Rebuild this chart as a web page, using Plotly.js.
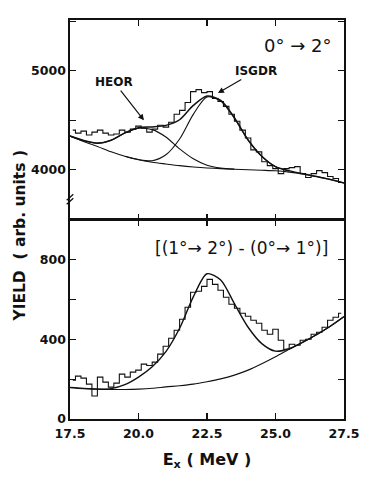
<!DOCTYPE html>
<html>
<head>
<meta charset="utf-8">
<script src="https://cdn.plot.ly/plotly-3.0.1.min.js"></script>
<style>
  html, body { margin: 0; padding: 0; background: #fff; }
  #plot { width: 377px; height: 477px; }
</style>
</head>
<body>
<div id="plot"></div>
<script>
// histogram bins (bin centres, MeV)
const binE = [17.6, 17.8, 18.0, 18.2, 18.4, 18.6, 18.8, 19.0, 19.2, 19.4,
  19.6, 19.8, 20.0, 20.2, 20.4, 20.6, 20.8, 21.0, 21.2, 21.4,
  21.6, 21.8, 22.0, 22.2, 22.4, 22.6, 22.8, 23.0, 23.2, 23.4,
  23.6, 23.8, 24.0, 24.2, 24.4, 24.6, 24.8, 25.0, 25.2, 25.4,
  25.6, 25.8, 26.0, 26.2, 26.4, 26.6, 26.8, 27.0, 27.2, 27.4];

// top panel: 0deg -> 2deg spectrum
const yield02 = [4400, 4370, 4390, 4350, 4380, 4400, 4370, 4350, 4360, 4400,
  4380, 4410, 4440, 4420, 4380, 4410, 4450, 4430, 4480, 4560,
  4600, 4680, 4790, 4810, 4780, 4790, 4720, 4690, 4640, 4560,
  4490, 4400, 4320, 4200, 4180, 4080, 4040, 4010, 3960, 4010,
  4020, 4030, 3960, 3920, 3960, 3990, 3970, 3930, 3910, 3870];

// bottom panel: difference spectrum
const yieldDiff = [195, 215, 205, 175, 115, 210, 185, 160, 180, 225,
  210, 235, 245, 275, 268, 285, 325, 365, 405, 445,
  500, 560, 635, 640, 665, 700, 675, 645, 610, 575,
  555, 530, 515, 495, 480, 445, 425, 450, 395, 350,
  375, 370, 395, 400, 425, 435, 460, 495, 510, 530];

// fit curves, read every 0.5 MeV
const fitE = [17.5, 18.0, 18.5, 19.0, 19.5, 20.0, 20.5, 21.0, 21.5, 22.0, 22.5,
  23.0, 23.5, 24.0, 24.5, 25.0, 25.5, 26.0, 26.5, 27.0, 27.5];
const topBg = [4340, 4285, 4235, 4180, 4135, 4100, 4075, 4057, 4040, 4027, 4017,
  4010, 4004, 3999, 3994, 3988, 3975, 3955, 3930, 3900, 3865];
const topTotal = [4340, 4295, 4268, 4298, 4372, 4425, 4432, 4448, 4505, 4650, 4745,
  4700, 4525, 4300, 4135, 4030, 3990, 3958, 3930, 3900, 3865];

const heorE = [17.5, 18.0, 18.5, 19.0, 19.5, 20.0, 20.5, 21.0, 21.5, 22.0, 22.5, 23.0, 23.5];
const heorFit = [4340, 4292, 4268, 4298, 4370, 4420, 4405, 4330, 4210, 4110, 4045, 4015, 4005];

const isgdrE = [19.5, 20.0, 20.5, 21.0, 21.5, 22.0, 22.5, 23.0, 23.5, 24.0, 24.5, 25.0, 25.5];
const isgdrFit = [4135, 4102, 4090, 4150, 4310, 4560, 4735, 4695, 4522, 4300, 4135, 4030, 3985];

const botBg = [158, 153, 150, 148, 148, 150, 154, 161, 167, 175, 187,
  201, 220, 245, 277, 312, 350, 385, 423, 465, 513];
const botTotal = [158, 153, 150, 152, 172, 210, 262, 338, 455, 612, 728,
  697, 578, 460, 378, 340, 352, 385, 423, 465, 513];

const xTicks = [17.5, 20.0, 22.5, 25.0, 27.5];
const xTickText = ['17.5', '20.0', '22.5', '25.0', '27.5'];

const black = '#111';
const FONT = 'DejaVu Sans, Liberation Sans, sans-serif';
const line = (w) => ({color: black, width: w});
const smooth = (w) => ({color: black, width: w, shape: 'spline', smoothing: 0.8});

const traces = [
  {x: binE, y: yield02, xaxis: 'x2', yaxis: 'y2', mode: 'lines', line: Object.assign(line(1.1), {shape: 'hvh'})},
  {x: fitE, y: topBg, xaxis: 'x2', yaxis: 'y2', mode: 'lines', line: smooth(1.1)},
  {x: heorE, y: heorFit, xaxis: 'x2', yaxis: 'y2', mode: 'lines', line: smooth(1.1)},
  {x: isgdrE, y: isgdrFit, xaxis: 'x2', yaxis: 'y2', mode: 'lines', line: smooth(1.1)},
  {x: fitE, y: topTotal, xaxis: 'x2', yaxis: 'y2', mode: 'lines', line: smooth(1.5)},
  {x: binE, y: yieldDiff, xaxis: 'x', yaxis: 'y', mode: 'lines', line: Object.assign(line(1.1), {shape: 'hvh'})},
  {x: fitE, y: botBg, xaxis: 'x', yaxis: 'y', mode: 'lines', line: smooth(1.1)},
  {x: fitE, y: botTotal, xaxis: 'x', yaxis: 'y', mode: 'lines', line: smooth(1.4)}
];

const tickFont = {family: FONT, size: 12.5, color: black, weight: 'bold'};
const axBase = {
  showline: true, linecolor: black, linewidth: 1.6, mirror: 'ticks',
  ticks: 'inside', ticklen: 6, tickwidth: 1.2, tickcolor: black,
  showgrid: false, zeroline: false, tickfont: tickFont
};
const minorTicks = (d) => ({dtick: d, ticks: 'inside', ticklen: 6, tickwidth: 1.2, tickcolor: black, showgrid: false});

const layout = {
  width: 377, height: 477,
  margin: {l: 70, r: 33, t: 20, b: 58},
  paper_bgcolor: '#fff', plot_bgcolor: '#fff',
  showlegend: false,
  font: {family: FONT, color: black},
  xaxis: Object.assign({}, axBase, {
    domain: [0, 1], anchor: 'y', range: [17.5, 27.5],
    tickvals: xTicks, ticktext: xTickText, ticklabelstandoff: 2,
    title: {text: 'E<sub>x</sub> ( MeV )', font: {family: FONT, size: 16, weight: 'bold', color: black}, standoff: 14}
  }),
  yaxis: Object.assign({}, axBase, {
    domain: [0, 0.5], anchor: 'x', range: [0, 1000],
    tickvals: [0, 400, 800], minor: minorTicks(200)
  }),
  xaxis2: Object.assign({}, axBase, {
    domain: [0, 1], anchor: 'y2', range: [17.5, 27.5],
    tickvals: xTicks, showticklabels: false
  }),
  yaxis2: Object.assign({}, axBase, {
    domain: [0.5, 1], anchor: 'x2', range: [3495, 5515],
    tickvals: [4000, 5000], minor: Object.assign(minorTicks(500), {tick0: 4000})
  }),
  annotations: [
    {xref: 'paper', yref: 'paper', x: -0.182, y: 0.46, xanchor: 'center', yanchor: 'middle',
      text: 'YIELD  ( arb. units )', textangle: -90, showarrow: false,
      font: {family: FONT, size: 15.5, weight: 'bold', color: black}},
    {xref: 'x2', yref: 'y2', x: 25.8, y: 5260, text: '0\u00b0 \u2192 2\u00b0',
      showarrow: false, font: {family: FONT, size: 18, color: black}},
    {xref: 'x2', yref: 'y2', x: 22.9, y: 4775, text: 'ISGDR', ax: 38, ay: -22,
      showarrow: true, arrowhead: 2, arrowsize: 1, arrowwidth: 1.2, arrowcolor: black,
      font: {family: FONT, size: 12, weight: 'bold', color: black}},
    {xref: 'x2', yref: 'y2', x: 20.2, y: 4500, text: 'HEOR', ax: -30, ay: -38,
      showarrow: true, arrowhead: 2, arrowsize: 1, arrowwidth: 1.2, arrowcolor: black,
      font: {family: FONT, size: 12, weight: 'bold', color: black}},
    {xref: 'x', yref: 'y', x: 23.75, y: 858, text: '[(1\u00b0\u2192 2\u00b0) - (0\u00b0\u2192 1\u00b0)]',
      showarrow: false, font: {family: FONT, size: 17, color: black}}
  ],
  shapes: [
    {type: 'line', xref: 'paper', yref: 'y2', x0: -0.012, x1: 0.012, y0: 3690, y1: 3750, line: {color: black, width: 1.3}},
    {type: 'line', xref: 'paper', yref: 'y2', x0: -0.012, x1: 0.012, y0: 3650, y1: 3710, line: {color: black, width: 1.3}}
  ]
};

Plotly.newPlot('plot', traces, layout, {displayModeBar: false, staticPlot: true});
</script>
</body>
</html>
